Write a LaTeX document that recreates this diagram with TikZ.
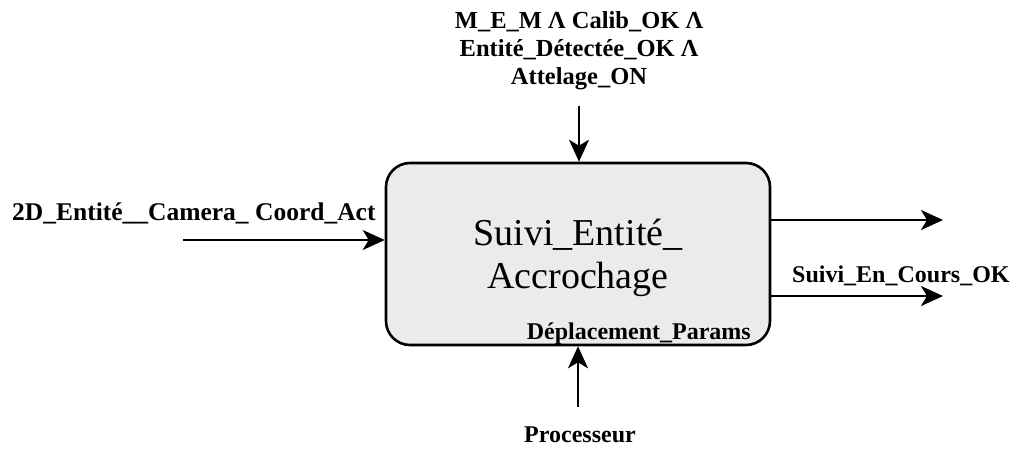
\documentclass[tikz,border=0pt]{standalone}
\usepackage{fontspec}
\newfontfamily\tnr{Liberation Serif}
\usetikzlibrary{arrows.meta}
\begin{document}
\begin{tikzpicture}[x=1pt,y=-1pt,
  lbl/.style={font=\tnr\bfseries\fontsize{24}{28}\selectfont, inner sep=0pt, align=center},
  ttl/.style={font=\tnr\fontsize{38}{43}\selectfont, inner sep=0pt, anchor=base},
  flow/.style={line width=2.4pt, -{Stealth[length=22pt,width=20pt,inset=6pt]}},
  fbox/.style={draw, line width=2.6pt, fill=black!8, rounded corners=24pt, minimum width=384pt, minimum height=182pt, inner sep=0pt}]
\useasboundingbox (0,0) rectangle (1023,448);
\node[fbox] (box) at (578,254) {};
\node[ttl] (title1) at (578,245) {Suivi\_Entité\_};
\node[ttl] (title2) at (578,288) {Accrochage};
\node[lbl, anchor=base east] (dep) at (751,339) {Déplacement\_Params};
\node[lbl, font=\tnr\bfseries\fontsize{24.5}{28}\selectfont, anchor=base] (ctrl1) at (579,28) {M\_E\_M Λ Calib\_OK Λ};
\node[lbl, font=\tnr\bfseries\fontsize{24.5}{28}\selectfont, anchor=base] (ctrl2) at (579,56) {Entité\_Détectée\_OK Λ};
\node[lbl, font=\tnr\bfseries\fontsize{24.5}{28}\selectfont, anchor=base] (ctrl3) at (579,84) {Attelage\_ON};
\node[lbl, font=\tnr\bfseries\fontsize{25.5}{28}\selectfont, anchor=base west] (inl) at (12,220) {2D\_Entité\_\_Camera\_ Coord\_Act};
\node[lbl, anchor=base west] (outl) at (792,282) {Suivi\_En\_Cours\_OK};
\node[lbl, anchor=base] (mech) at (580,442) {Processeur};
\coordinate (tin) at (579,106);
\coordinate (lin) at (183,240);
\coordinate (bin) at (578,407);
\coordinate (o1) at (943,220);
\coordinate (o2) at (943,296);
\draw[flow] (tin) -- (tin |- box.north);
\draw[flow] (lin) -- (lin -| box.west);
\draw[flow] (bin) -- (bin |- box.south);
\draw[flow] (o1 -| box.east) -- (o1);
\draw[flow] (o2 -| box.east) -- (o2);
\end{tikzpicture}
\end{document}
